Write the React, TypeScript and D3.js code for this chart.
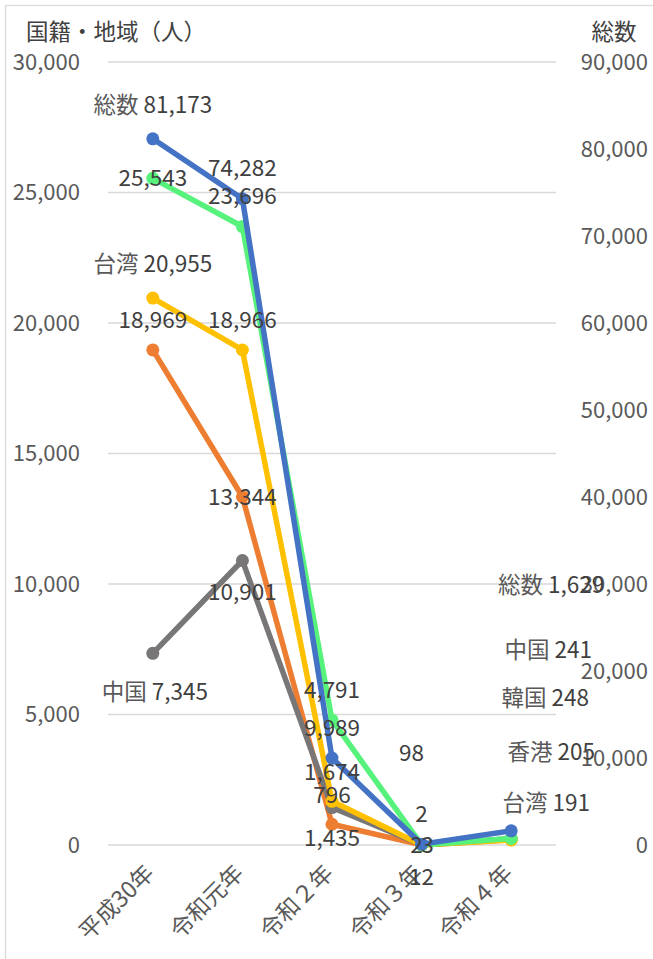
import React from "react";
import * as d3 from "d3";

const categories = ["平成30年", "令和元年", "令和２年", "令和３年", "令和４年"];
const leftTicks = [0, 5000, 10000, 15000, 20000, 25000, 30000];
const rightTicks = [0, 10000, 20000, 30000, 40000, 50000, 60000, 70000, 80000, 90000];

const totalValues = [81173, 74282, 9989, 98, 1629];
const koreaValues = [25543, 23696, 4791, 2, 248];
const taiwanValues = [20955, 18966, 1674, 2, 191];
const hongkongValues = [18969, 13344, 796, 3, 205];
const chinaValues = [7345, 10901, 1435, 12, 241];

// which points show the series name in their label
const totalNamed = [true, false, false, false, true];
const koreaNamed = [false, false, false, false, true];
const taiwanNamed = [true, false, false, false, true];
const hongkongNamed = [false, false, false, false, true];
const chinaNamed = [true, false, false, false, true];

// label offsets (style): [dx, dy] relative to point
const totalOff = [[0, -34], [0, -31], [0, -30], [-10, -91], [40, -246]];
const koreaOff = [[0, 0], [0, -30], [0, -30], [0, -31], [34, -140]];
const taiwanOff = [[0, -34], [0, -30], [0, -29], [-5, 0], [35, -37]];
const hongkongOff = [[0, -30], [0, 0], [0, -29], [6, 0], [40, -88]];
const chinaOff = [[2, 39], [0, 32], [0, 31], [0, 32], [37, -189]];

type Series = {
  name: string;
  values: number[];
  color: string;
  axis: "left" | "right";
  named: boolean[];
  off: number[][];
};

const series: Series[] = [
  { name: "香港", values: hongkongValues, color: "#ED7D31", axis: "left", named: hongkongNamed, off: hongkongOff },
  { name: "中国", values: chinaValues, color: "#787676", axis: "left", named: chinaNamed, off: chinaOff },
  { name: "台湾", values: taiwanValues, color: "#FFC000", axis: "left", named: taiwanNamed, off: taiwanOff },
  { name: "韓国", values: koreaValues, color: "#57F27B", axis: "left", named: koreaNamed, off: koreaOff },
  { name: "総数", values: totalValues, color: "#4472C4", axis: "right", named: totalNamed, off: totalOff },
];

const W = 653;
const H = 959;
const plotLeft = 108;
const plotRight = 556;
const plotTop = 62;
const plotBottom = 845;
const FONT = "'Noto Sans CJK JP', 'Noto Sans', sans-serif";

export default function App() {
  const x = d3.scaleBand<string>().domain(categories).range([plotLeft, plotRight]);
  const cx = (c: string) => (x(c) as number) + x.bandwidth() / 2;
  const yL = d3.scaleLinear().domain([0, 30000]).range([plotBottom, plotTop]);
  const yR = d3.scaleLinear().domain([0, 90000]).range([plotBottom, plotTop]);
  const fmt = d3.format(",");

  const lineFor = (s: Series) => {
    const y = s.axis === "left" ? yL : yR;
    return d3
      .line<number>()
      .x((_, i) => cx(categories[i]))
      .y((v) => y(v))(s.values) as string;
  };

  return (
    <svg width={W} height={H} style={{ position: "absolute", left: 0, top: 0, fontFamily: FONT }}>
      <rect x={0} y={0} width={W} height={H} fill="#fff" />
      <rect x={5.5} y={5.5} width={W + 20} height={H + 20} fill="none" stroke="#d9d9d9" strokeWidth={1.3} />

      {leftTicks.map((t) => (
        <line key={"g" + t} x1={plotLeft} x2={plotRight} y1={yL(t)} y2={yL(t)} stroke="#d9d9d9" strokeWidth={1.5} />
      ))}

      {leftTicks.map((t) => (
        <text key={"l" + t} x={80} y={yL(t)} dy="0.35em" textAnchor="end" fontSize={22} fill="#595959">
          {fmt(t)}
        </text>
      ))}
      {rightTicks.map((t) => (
        <text key={"r" + t} x={648} y={yR(t)} dy="0.35em" textAnchor="end" fontSize={22} fill="#595959">
          {fmt(t)}
        </text>
      ))}

      <text x={26} y={32} dy="0.35em" fontSize={22.5} fill="#404040">国籍・地域（人）</text>
      <text x={614} y={32} dy="0.35em" textAnchor="middle" fontSize={22.5} fill="#404040">総数</text>

      {categories.map((c) => (
        <text
          key={c}
          transform={`translate(${cx(c) - 3},${869}) rotate(-45)`}
          textAnchor="end"
          dy="0.35em"
          fontSize={23}
          fill="#595959"
        >
          {c}
        </text>
      ))}

      {series.map((s) => {
        const y = s.axis === "left" ? yL : yR;
        return (
          <g key={s.name}>
            <path d={lineFor(s)} fill="none" stroke={s.color} strokeWidth={5.5} strokeLinejoin="round" strokeLinecap="round" />
            {s.values.map((v, i) => (
              <circle key={i} cx={cx(categories[i])} cy={y(v)} r={6.5} fill={s.color} />
            ))}
          </g>
        );
      })}

      {series.map((s) => {
        const y = s.axis === "left" ? yL : yR;
        return (
          <g key={"lab" + s.name}>
            {s.values.map((v, i) => (
              <text
                key={i}
                x={cx(categories[i]) + s.off[i][0]}
                y={y(v) + s.off[i][1]}
                dy="0.35em"
                textAnchor="middle"
                fontSize={22.5}
                fill="#404040"
              >
                {s.named[i] ? <tspan fill="#595959">{s.name + " "}</tspan> : null}
                {fmt(v)}
              </text>
            ))}
          </g>
        );
      })}
    </svg>
  );
}
